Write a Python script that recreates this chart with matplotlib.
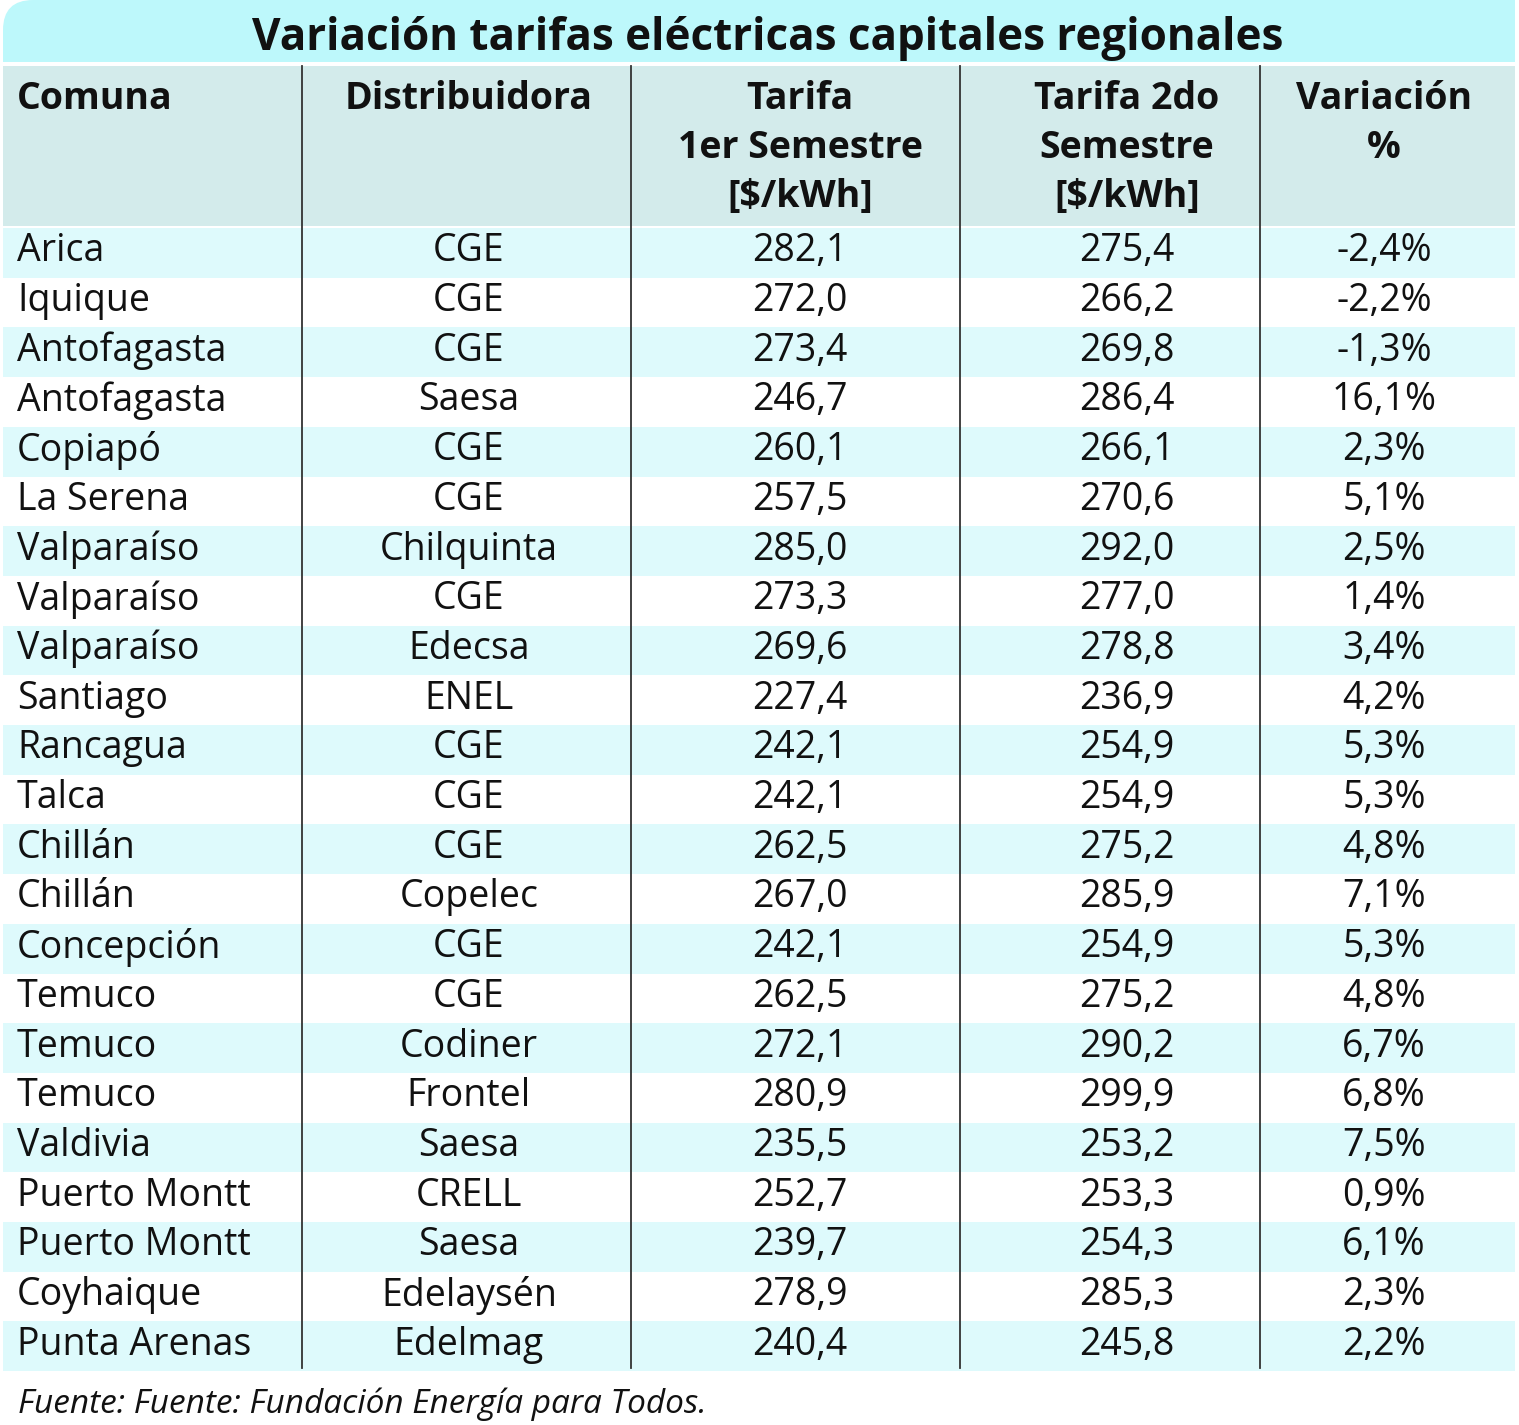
import matplotlib
matplotlib.use("Agg")
import matplotlib.pyplot as plt
from matplotlib.patches import Rectangle, FancyBboxPatch

title = "Variación tarifas eléctricas capitales regionales"
headers = ["Comuna", "Distribuidora", "Tarifa\n1er Semestre\n[$/kWh]", "Tarifa 2do\nSemestre\n[$/kWh]", "Variación\n%"]
comunas = ["Arica", "Iquique", "Antofagasta", "Antofagasta", "Copiapó", "La Serena", "Valparaíso",
           "Valparaíso", "Valparaíso", "Santiago", "Rancagua", "Talca", "Chillán", "Chillán",
           "Concepción", "Temuco", "Temuco", "Temuco", "Valdivia", "Puerto Montt", "Puerto Montt",
           "Coyhaique", "Punta Arenas"]
distribuidoras = ["CGE", "CGE", "CGE", "Saesa", "CGE", "CGE", "Chilquinta", "CGE", "Edecsa", "ENEL",
                  "CGE", "CGE", "CGE", "Copelec", "CGE", "CGE", "Codiner", "Frontel", "Saesa", "CRELL",
                  "Saesa", "Edelaysén", "Edelmag"]
tarifa1 = [282.1, 272.0, 273.4, 246.7, 260.1, 257.5, 285.0, 273.3, 269.6, 227.4, 242.1, 242.1, 262.5,
           267.0, 242.1, 262.5, 272.1, 280.9, 235.5, 252.7, 239.7, 278.9, 240.4]
tarifa2 = [275.4, 266.2, 269.8, 286.4, 266.1, 270.6, 292.0, 277.0, 278.8, 236.9, 254.9, 254.9, 275.2,
           285.9, 254.9, 275.2, 290.2, 299.9, 253.2, 253.3, 254.3, 285.3, 245.8]
variacion = [-2.4, -2.2, -1.3, 16.1, 2.3, 5.1, 2.5, 1.4, 3.4, 4.2, 5.3, 5.3, 4.8, 7.1, 5.3, 4.8, 6.7,
             6.8, 7.5, 0.9, 6.1, 2.3, 2.2]
fuente = "Fuente: Fuente: Fundación Energía para Todos."

W, H = 1519, 1425
fig = plt.figure(figsize=(W / 100, H / 100), dpi=100)
ax = fig.add_axes([0, 0, 1, 1])
ax.set_xlim(0, W)
ax.set_ylim(H, 0)
ax.axis("off")

FONT = "Open Sans"
C_TITLE = "#bdf8fb"
C_HEAD = "#d3ebeb"
C_ROW = "#defafc"

x0, x1 = 3, 1515
# title band with rounded top-left corner
ax.add_patch(FancyBboxPatch((x0 + 0, 0), x1 - x0, 62, boxstyle="round,pad=0,rounding_size=30",
                            facecolor=C_TITLE, edgecolor="none"))
ax.add_patch(Rectangle((x0 + 40, 0), x1 - x0 - 40, 62, facecolor=C_TITLE, edgecolor="none"))
ax.add_patch(Rectangle((x0, 32), x1 - x0, 30, facecolor=C_TITLE, edgecolor="none"))
ax.text(768, 38, title, ha="center", va="center", fontsize=31.7, fontweight="bold",
        family=FONT, color="#111111")

# header band
hy0, hy1 = 66, 226
ax.add_patch(Rectangle((x0, hy0), x1 - x0, hy1 - hy0, facecolor=C_HEAD, edgecolor="none"))

row_top = 228
row_h = 49.7
n = len(comunas)
for i in range(n):
    if i % 2 == 0:
        ax.add_patch(Rectangle((x0, row_top + i * row_h), x1 - x0, row_h, facecolor=C_ROW, edgecolor="none"))

col_lines = [302, 631, 960, 1260]
for xl in col_lines:
    ax.plot([xl, xl], [hy0, row_top + n * row_h - 3], color="#333333", lw=1.3)

col_x = [17, 469, 800, 1127, 1384]
col_ha = ["left", "center", "center", "center", "center"]
line_gap = 49
for j, h in enumerate(headers):
    for k, line in enumerate(h.split("\n")):
        ax.text(col_x[j], 99 + k * line_gap, line, ha=col_ha[j], va="center", fontsize=27,
                fontweight="bold", family=FONT, color="#111111")

def fmt(v, dec=1):
    return f"{v:.{dec}f}".replace(".", ",")

for i in range(n):
    yc = row_top + i * row_h + row_h / 2 - 1.5
    vals = [comunas[i], distribuidoras[i], fmt(tarifa1[i]), fmt(tarifa2[i]), fmt(variacion[i]) + "%"]
    for j, v in enumerate(vals):
        ax.text(col_x[j], yc, v, ha=col_ha[j], va="center", fontsize=27, family=FONT, color="#111111")

ax.text(18, 1404, fuente, ha="left", va="center", fontsize=24, style="italic", family=FONT,
        color="#111111")

fig.savefig("out.png", dpi=100)
